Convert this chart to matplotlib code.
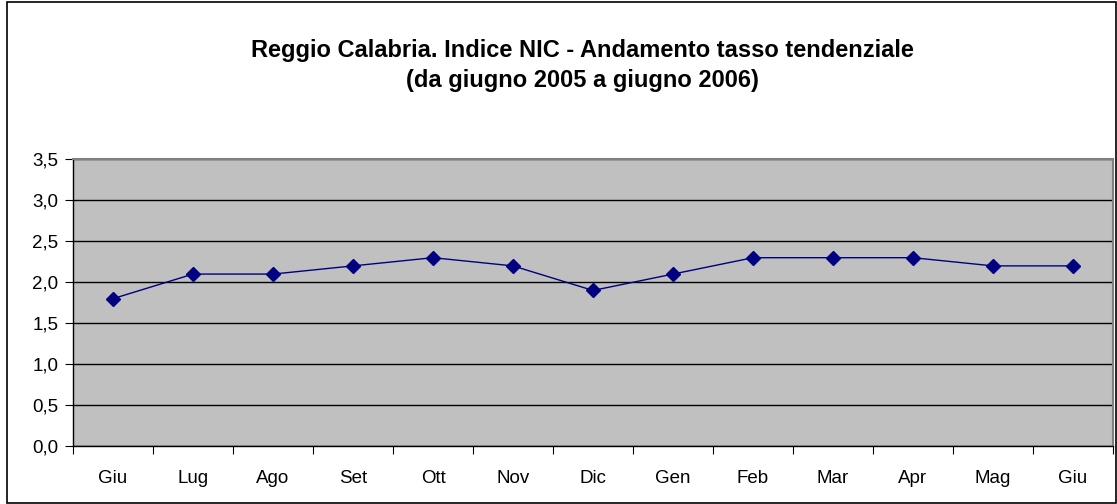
"""
Reggio Calabria NIC index trend chart
"""

import matplotlib
matplotlib.use('Agg')
import matplotlib.pyplot as plt  # pylint: disable=import-error
from matplotlib.patches import Rectangle
from matplotlib.ticker import FixedLocator, FuncFormatter

months = ['Giu', 'Lug', 'Ago', 'Set', 'Ott', 'Nov', 'Dic',
          'Gen', 'Feb', 'Mar', 'Apr', 'Mag', 'Giu']
tasso = [1.8, 2.1, 2.1, 2.2, 2.3, 2.2, 1.9, 2.1, 2.3, 2.3, 2.3, 2.2, 2.2]
y_ticks = [0.0, 0.5, 1.0, 1.5, 2.0, 2.5, 3.0, 3.5]


def main():
    plt.rcParams['font.family'] = ['Liberation Sans', 'DejaVu Sans']

    fig = plt.figure(figsize=(11.17, 5.04), dpi=100)
    fig.patches.append(Rectangle((7 / 1117, 0.002), 1 - 8 / 1117, 0.994,
                                 transform=fig.transFigure, fill=False,
                                 edgecolor='black', linewidth=1.2))

    ax = fig.add_axes([0.0654, 0.1151, 0.931, 0.5685])
    ax.set_facecolor('#c0c0c0')

    x = list(range(len(months)))
    ax.plot(x, tasso, color='#000080', linewidth=1.0, marker='D',
            markersize=7, markerfacecolor='#000080', markeredgecolor='#000080',
            zorder=3)

    ax.set_xlim(-0.5, len(months) - 0.5)
    ax.set_ylim(0, 3.5)
    ax.set_yticks(y_ticks)
    ax.yaxis.set_major_formatter(FuncFormatter(lambda v, _: f'{v:.1f}'.replace('.', ',')))
    ax.yaxis.grid(True, color='black', linewidth=1.0)
    ax.set_axisbelow(True)

    ax.xaxis.set_major_locator(FixedLocator([i - 0.5 for i in range(len(months) + 1)]))
    ax.xaxis.set_major_formatter(FuncFormatter(lambda v, _: ''))
    ax.xaxis.set_minor_locator(FixedLocator(x))
    ax.set_xticklabels(months, minor=True)
    ax.tick_params(axis='x', which='minor', length=0, pad=17, labelsize=13.5)
    ax.tick_params(axis='x', which='major', length=5.5, direction='out', color='black')
    ax.tick_params(axis='y', length=5.5, direction='out', labelsize=13.5, pad=5)

    for side in ('top', 'right'):
        ax.spines[side].set_color('#808080')
        ax.spines[side].set_linewidth(1.5)
    for side in ('left', 'bottom'):
        ax.spines[side].set_color('black')
        ax.spines[side].set_linewidth(1.0)

    fig.text(0.521, 0.900, 'Reggio Calabria. Indice NIC - Andamento tasso tendenziale',
             ha='center', va='center', fontsize=17, fontweight='bold')
    fig.text(0.521, 0.841, '(da giugno 2005 a giugno 2006)',
             ha='center', va='center', fontsize=17, fontweight='bold')

    fig.savefig('out.png', dpi=100)


if __name__ == "__main__":
    main()
